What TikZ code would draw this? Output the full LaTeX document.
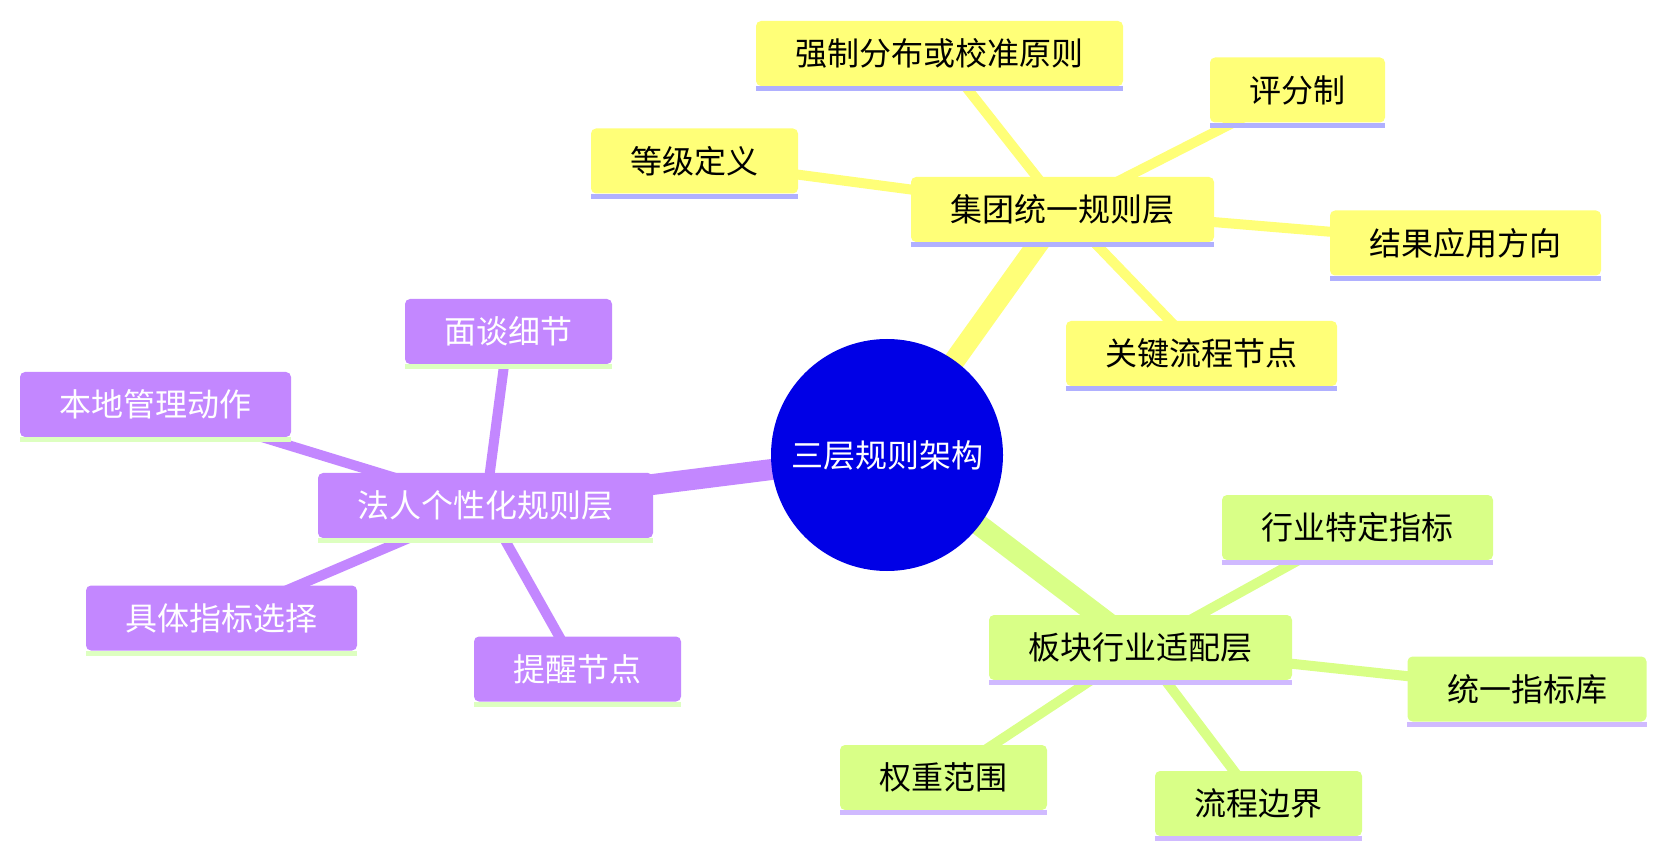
\documentclass[tikz,border=0pt]{standalone}
\usepackage{fontspec}
\setmainfont{Noto Sans CJK SC}
\usetikzlibrary{backgrounds}
\definecolor{cblue}{HTML}{0000E6}
\definecolor{cyel}{HTML}{FFFF78}
\definecolor{cyelu}{HTML}{B0B0FF}
\definecolor{cpur}{HTML}{C387FF}
\definecolor{cpuru}{HTML}{DDFFC0}
\definecolor{cgrn}{HTML}{D9FF87}
\definecolor{cgrnu}{HTML}{D0BAFF}
\tikzset{
  box/.style={rectangle, rounded corners=5pt, inner sep=0pt, minimum height=65pt,
    font=\fontsize{32}{37}\selectfont},
  ybox/.style={box, fill=cyel, text=black},
  pbox/.style={box, fill=cpur, text=white},
  gbox/.style={box, fill=cgrn, text=black},
  mainedge/.style={line width=21pt},
  subedge/.style={line width=10pt},
}
\newcommand\uline[2]{\fill[#2] (#1.south west) rectangle ([yshift=-5pt]#1.south east);}
\begin{document}
\begin{tikzpicture}[x=1pt,y=-1pt]
\useasboundingbox (0,0) rectangle (1666,858);
% center
\node[circle, fill=cblue, minimum size=232pt, inner sep=0pt, text=white,
  font=\fontsize{32}{37}\selectfont] (c) at (887,455) {三层规则架构};
% yellow section
\node[ybox, minimum width=303pt] (jt) at (1062.5,209.5) {集团统一规则层};
\node[ybox, minimum width=367pt] (qz) at (939.5,53.5) {强制分布或校准原则};
\node[ybox, minimum width=175pt] (pf) at (1297.5,90) {评分制};
\node[ybox, minimum width=207pt] (dj) at (694.5,161) {等级定义};
\node[ybox, minimum width=271pt] (jg) at (1465.5,243) {结果应用方向};
\node[ybox, minimum width=271pt] (gj) at (1201.5,353.5) {关键流程节点};
% purple section
\node[pbox, minimum width=335pt] (fr) at (485.5,505.5) {法人个性化规则层};
\node[pbox, minimum width=207pt] (mt) at (508.5,331.5) {面谈细节};
\node[pbox, minimum width=271pt] (bd) at (155.5,404.5) {本地管理动作};
\node[pbox, minimum width=271pt] (jx) at (221.5,618) {具体指标选择};
\node[pbox, minimum width=207pt] (tx) at (577.5,669) {提醒节点};
% green section
\node[gbox, minimum width=303pt] (bk) at (1140.5,647.5) {板块行业适配层};
\node[gbox, minimum width=271pt] (hy) at (1357.5,527.5) {行业特定指标};
\node[gbox, minimum width=239pt] (ty) at (1527,689) {统一指标库};
\node[gbox, minimum width=207pt] (qf) at (943.5,777.5) {权重范围};
\node[gbox, minimum width=207pt] (lc) at (1258.5,803.5) {流程边界};
% underlines
\uline{jt}{cyelu}\uline{qz}{cyelu}\uline{pf}{cyelu}\uline{dj}{cyelu}\uline{jg}{cyelu}\uline{gj}{cyelu}
\uline{fr}{cpuru}\uline{mt}{cpuru}\uline{bd}{cpuru}\uline{jx}{cpuru}\uline{tx}{cpuru}
\uline{bk}{cgrnu}\uline{hy}{cgrnu}\uline{ty}{cgrnu}\uline{qf}{cgrnu}\uline{lc}{cgrnu}
\begin{scope}[on background layer]
  \draw[cyel, mainedge] (c.center) -- (jt.center);
  \draw[cpur, mainedge] (c.center) -- (fr.center);
  \draw[cgrn, mainedge] (c.center) -- (bk.center);
  \draw[cyel, subedge] (jt.center) -- (qz.center);
  \draw[cyel, subedge] (jt.center) -- (pf.center);
  \draw[cyel, subedge] (jt.center) -- (dj.center);
  \draw[cyel, subedge] (jt.center) -- (jg.center);
  \draw[cyel, subedge] (jt.center) -- (gj.center);
  \draw[cpur, subedge] (fr.center) -- (mt.center);
  \draw[cpur, subedge] (fr.center) -- (bd.center);
  \draw[cpur, subedge] (fr.center) -- (jx.center);
  \draw[cpur, subedge] (fr.center) -- (tx.center);
  \draw[cgrn, subedge] (bk.center) -- (hy.center);
  \draw[cgrn, subedge] (bk.center) -- (ty.center);
  \draw[cgrn, subedge] (bk.center) -- (qf.center);
  \draw[cgrn, subedge] (bk.center) -- (lc.center);
\end{scope}
\end{tikzpicture}
\end{document}
